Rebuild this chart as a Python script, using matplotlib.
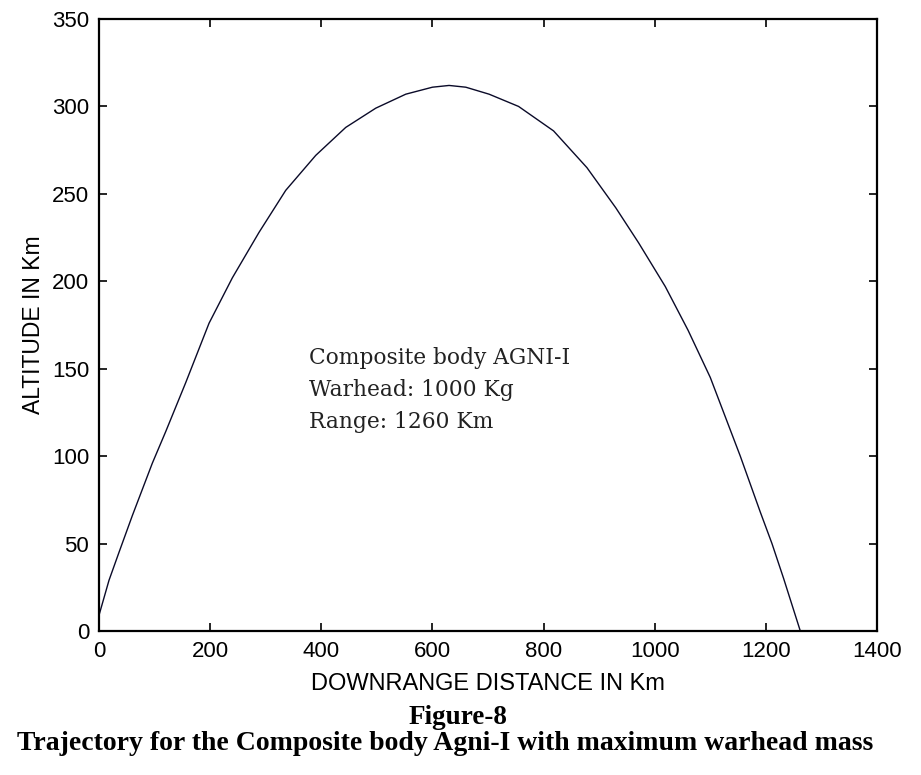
import matplotlib
matplotlib.use("Agg")
import matplotlib.pyplot as plt

# Trajectory (downrange km, altitude km)
downrange = [0, 0, 18, 36, 60, 96, 120, 156, 198, 240, 288, 336, 390,
             444, 498, 552, 600, 630, 660, 702, 755, 818, 878, 930,
             971, 1019, 1060, 1100, 1154, 1190, 1211, 1232, 1262]
altitude = [0, 9, 29, 45, 66, 96, 114, 142, 176, 202, 228, 252, 272,
            288, 299, 307, 311, 312, 311, 307, 300, 286, 265, 242,
            222, 197, 172, 145, 100, 68, 50, 30, 0]

x_ticks = [0, 200, 400, 600, 800, 1000, 1200, 1400]
y_ticks = [0, 50, 100, 150, 200, 250, 300, 350]

note_lines = ["Composite body AGNI-I", "Warhead: 1000 Kg", "Range: 1260 Km"]
fig_label = "Figure-8"
caption = "Trajectory for the Composite body Agni-I with maximum warhead mass"

sans = "Liberation Sans"

fig = plt.figure(figsize=(9.21, 7.75), dpi=100)
ax = fig.add_axes([99 / 921, 1 - 631 / 775, 778 / 921, 612 / 775])

ax.plot(downrange, altitude, color="#0a0a28", linewidth=1.0)

ax.set_xlim(0, 1400)
ax.set_ylim(0, 350)
ax.set_xticks(x_ticks)
ax.set_yticks(y_ticks)
ax.tick_params(direction="in", length=6, width=1.2, top=True, right=True,
               labelsize=16, pad=7)
for lab in ax.get_xticklabels() + ax.get_yticklabels():
    lab.set_fontfamily(sans)
for sp in ax.spines.values():
    sp.set_linewidth(1.6)

ax.set_xlabel("DOWNRANGE DISTANCE IN Km", fontsize=17, family=sans,
              labelpad=8)
ax.set_ylabel("ALTITUDE IN Km", fontsize=16.5, family=sans, labelpad=5)

for i, line in enumerate(note_lines):
    fig.text(309 / 921, 1 - (358 + 32 * i) / 775, line, fontsize=15.7,
             family="DejaVu Serif", color="#222222", va="center", ha="left")

fig.text(458 / 921, 1 - 717 / 775, fig_label, fontsize=19.5, weight="bold",
         family="Liberation Serif", ha="center", va="center")
fig.text(445 / 921, 1 - 744 / 775, caption, fontsize=20, weight="bold",
         family="Liberation Serif", ha="center", va="center")

fig.savefig("out.png", dpi=100)
